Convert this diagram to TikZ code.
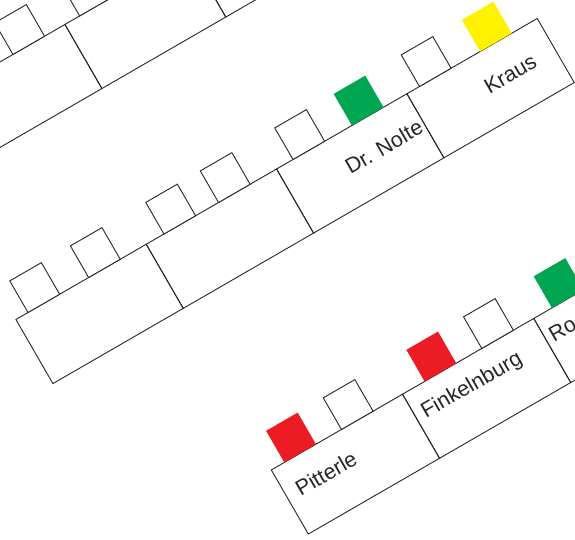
\documentclass[tikz,border=0pt]{standalone}
\usepackage{fontspec}
\setmainfont{Liberation Sans}
\usetikzlibrary{positioning,calc}

\definecolor{seatgreen}{RGB}{0,166,81}
\definecolor{seatyellow}{RGB}{255,242,0}
\definecolor{seatred}{RGB}{237,28,36}

\begin{document}
\begin{tikzpicture}[
  x=1pt, y=1pt,
  desk/.style={draw=black!85, line width=0.9pt, minimum width=150.5, minimum height=74, inner sep=0pt, outer sep=0pt},
  chair/.style={draw=black!85, line width=0.9pt, minimum size=36.5, inner sep=0pt, outer sep=0pt, fill=white},
  taken/.style={chair, draw=none, fill=#1},
  person/.style={font=\fontsize{21.5}{25}\selectfont, text=black!85, inner sep=0pt, anchor=base west}
]
\useasboundingbox (0,0) rectangle (575,540);
\clip (0,0) rectangle (575,540);

\begin{scope}[rotate=30, transform shape]

% top row
\node[desk, minimum width=143, anchor=north west] (t1) at (171,414) {};
\node[desk, minimum width=143, right=0pt of t1] (t2) {};
\node[desk, minimum width=143, right=0pt of t2] (t3) {};
\node[chair, anchor=south west] (tc1) at ($(t1.north west)+(83,0)$) {};
\node[chair, anchor=south west] (tc2) at ($(t2.north west)+(17,0)$) {};

% middle row
\node[desk, anchor=north west] (m1) at (124,183) {};
\node[desk, right=0pt of m1] (m2) {};
\node[desk, right=0pt of m2] (m3) {};
\node[desk, right=0pt of m3] (m4) {};
\node[chair, anchor=south west] (mc1) at ($(m1.north west)+(14,0)$) {};
\node[chair, anchor=south west] (mc2) at ($(m1.north west)+(84,0)$) {};
\node[chair, anchor=south west] (mc3) at ($(m2.north west)+(20.5,0)$) {};
\node[chair, anchor=south west] (mc4) at ($(m2.north west)+(83.5,0)$) {};
\node[chair, anchor=south west] (mc5) at ($(m3.north west)+(19,0)$) {};
\node[taken=seatgreen, anchor=south west] (mc6) at ($(m3.north west)+(87,0)$) {};
\node[chair, anchor=south west] (mc7) at ($(m4.north west)+(14.5,0)$) {};
\node[taken=seatyellow, anchor=south west] (mc8) at ($(m4.north west)+(84.5,0)$) {};
\node[person] (nolte) at ($(m3.north west)+(61,-42)$) {Dr. Nolte};
\node[person] (kraus) at ($(m4.north west)+(71,-42)$) {Kraus};

% bottom row
\node[desk, minimum width=151.5, anchor=north west] (b1) at (270,-75) {};
\node[desk, minimum width=151.5, right=0pt of b1] (b2) {};
\node[desk, minimum width=151.5, right=0pt of b2] (b3) {};
\node[taken=seatred, anchor=south west] (bc1) at ($(b1.north west)+(15,0)$) {};
\node[chair, anchor=south west] (bc2) at ($(b1.north west)+(81,0)$) {};
\node[taken=seatred, anchor=south west] (bc3) at ($(b2.north west)+(25.5,0)$) {};
\node[chair, anchor=south west] (bc4) at ($(b2.north west)+(91.5,0)$) {};
\node[taken=seatgreen, anchor=south west] (bc5) at ($(b3.north west)+(21,0)$) {};
\node[person] (pitterle) at ($(b1.north west)+(12,-38)$) {Pitterle};
\node[person] (finkelnburg) at ($(b2.north west)+(8,-33)$) {Finkelnburg};
\node[person] (ro) at ($(b3.north west)+(5.4,-31)$) {Ro};

\end{scope}
\end{tikzpicture}
\end{document}
